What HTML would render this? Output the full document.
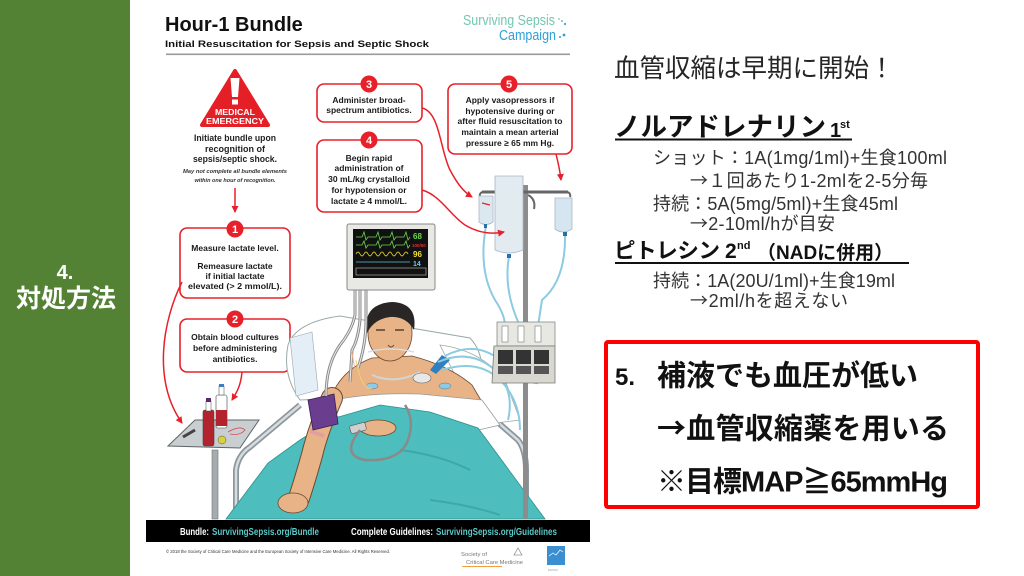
<!DOCTYPE html>
<html><head><meta charset="utf-8">
<style>
html,body{margin:0;padding:0;background:#fff;}
body{width:1024px;height:576px;overflow:hidden;position:relative;}
svg{position:absolute;left:0;top:0;}
</style></head>
<body>
<svg width="1024" height="576" viewBox="0 0 1024 576" style="font-family:'Liberation Sans','Noto Sans CJK JP',sans-serif">
<defs>
<marker id="ah" markerWidth="8" markerHeight="8" refX="6" refY="4" orient="auto" markerUnits="userSpaceOnUse">
<path d="M0,0.5 L7,4 L0,7.5 Z" fill="#e8202a"/>
</marker>
</defs>
<rect x="0" y="0" width="1024" height="576" fill="#fff"/>
<!-- green sidebar -->
<rect x="0" y="0" width="130" height="576" fill="#548235"/>
<text x="65" y="279" text-anchor="middle" font-size="20" font-weight="bold" fill="#fff">4.</text>
<text x="66" y="307" text-anchor="middle" font-size="25" font-weight="bold" fill="#fff" font-family="'Liberation Sans','Noto Sans CJK JP',sans-serif">対処方法</text>

<!-- ===== POSTER ===== -->
<text x="165" y="31" font-size="20" font-weight="bold" fill="#111">Hour-1 Bundle</text>
<text x="165" y="47" font-size="9.4" font-weight="bold" fill="#111" textLength="264" lengthAdjust="spacingAndGlyphs">Initial Resuscitation for Sepsis and Septic Shock</text>
<rect x="166" y="53.5" width="404" height="1.6" fill="#9a9a9a"/>
<text x="463" y="25" font-size="15" fill="#74c7b0" textLength="92" lengthAdjust="spacingAndGlyphs">Surviving Sepsis</text>
<circle cx="559" cy="19" r="0.9" fill="#74c7b0"/><circle cx="562" cy="21" r="0.9" fill="#3aa0d8"/><circle cx="565" cy="24" r="1.1" fill="#3aa0d8"/>
<text x="499" y="40" font-size="15" fill="#2f9fd8" textLength="57" lengthAdjust="spacingAndGlyphs">Campaign</text>
<circle cx="560" cy="37" r="1" fill="#2f9fd8"/><circle cx="564" cy="35" r="1.4" fill="#2f9fd8"/>

<!-- medical emergency -->
<path d="M235,71 L268,125 L202,125 Z" fill="#e41f26" stroke="#e41f26" stroke-width="4" stroke-linejoin="round"/>
<path d="M230.5,78 L239.5,78 L238,97 L232,97 Z" fill="#fff"/>
<rect x="232" y="99.5" width="6" height="5" fill="#fff"/>
<text x="235" y="115" text-anchor="middle" font-size="8" font-weight="bold" fill="#fff" textLength="40" lengthAdjust="spacingAndGlyphs">MEDICAL</text>
<text x="235" y="124" text-anchor="middle" font-size="8" font-weight="bold" fill="#fff" textLength="58" lengthAdjust="spacingAndGlyphs">EMERGENCY</text>
<g font-size="9" font-weight="bold" fill="#222" text-anchor="middle">
<text x="235" y="141" textLength="82" lengthAdjust="spacingAndGlyphs">Initiate bundle upon</text>
<text x="235" y="152">recognition of</text>
<text x="235" y="162" textLength="84" lengthAdjust="spacingAndGlyphs">sepsis/septic shock.</text>
</g>
<g font-size="5.5" font-weight="bold" font-style="italic" fill="#333" text-anchor="middle">
<text x="235" y="173" textLength="104" lengthAdjust="spacingAndGlyphs">May not complete all bundle elements</text>
<text x="235" y="182" textLength="81" lengthAdjust="spacingAndGlyphs">within one hour of recognition.</text>
</g>
<line x1="235" y1="188" x2="235" y2="212" stroke="#e8202a" stroke-width="1.5" marker-end="url(#ah)"/>

<!-- boxes -->
<g fill="#fff" stroke="#e8202a" stroke-width="1.6">
<rect x="180" y="228" width="110" height="70" rx="7"/>
<rect x="180" y="319" width="110" height="53" rx="7"/>
<rect x="317" y="84" width="105" height="38" rx="7"/>
<rect x="317" y="140" width="105" height="72" rx="7"/>
<rect x="448" y="84" width="124" height="70" rx="7"/>
</g>
<g fill="#e8202a">
<circle cx="235" cy="229" r="8.5"/><circle cx="235" cy="319" r="8.5"/>
<circle cx="369" cy="84" r="8.5"/><circle cx="369" cy="140" r="8.5"/><circle cx="509" cy="84" r="8.5"/>
</g>
<g font-size="11" font-weight="bold" fill="#fff" text-anchor="middle">
<text x="235" y="233">1</text><text x="235" y="323">2</text>
<text x="369" y="88">3</text><text x="369" y="144">4</text><text x="509" y="88">5</text>
</g>
<g font-size="8.5" font-weight="bold" fill="#1a1a1a" text-anchor="middle">
<text x="235" y="251">Measure lactate level.</text>
<text x="235" y="269">Remeasure lactate</text>
<text x="235" y="279">if initial lactate</text>
<text x="235" y="289" textLength="94" lengthAdjust="spacingAndGlyphs">elevated (&gt; 2 mmol/L).</text>
<text x="235" y="340">Obtain blood cultures</text>
<text x="235" y="351">before administering</text>
<text x="235" y="362">antibiotics.</text>
<text x="369" y="103">Administer broad-</text>
<text x="369" y="113">spectrum antibiotics.</text>
<text x="369" y="161">Begin rapid</text>
<text x="369" y="171">administration of</text>
<text x="369" y="182">30 mL/kg crystalloid</text>
<text x="369" y="193">for hypotension or</text>
<text x="369" y="204">lactate ≥ 4 mmol/L.</text>
<text x="510" y="103">Apply vasopressors if</text>
<text x="510" y="114">hypotensive during or</text>
<text x="510" y="124" textLength="105" lengthAdjust="spacingAndGlyphs">after fluid resuscitation to</text>
<text x="510" y="135">maintain a mean arterial</text>
<text x="510" y="146">pressure ≥ 65 mm Hg.</text>
</g>

<!-- scene: tray table -->
<rect x="212" y="450" width="6" height="69" fill="#a4acb0" stroke="#6f7579" stroke-width="0.6"/>
<path d="M168,446 L195,420 L259,420 L240,448 Z" fill="#c9ced1" stroke="#5f6468" stroke-width="1"/>
<rect x="203" y="410" width="11" height="36" rx="2" fill="#b3232d" stroke="#444" stroke-width="0.6"/>
<rect x="206" y="401" width="5" height="10" fill="#fff" stroke="#444" stroke-width="0.5"/>
<rect x="206" y="398" width="5" height="4" fill="#5a2a70"/>
<rect x="216" y="395" width="11" height="33" rx="2" fill="#fff" stroke="#444" stroke-width="0.6"/>
<rect x="216" y="410" width="11" height="16" fill="#b3232d"/>
<rect x="219" y="386" width="5" height="9" fill="#fff" stroke="#444" stroke-width="0.5"/>
<rect x="219" y="384" width="5" height="3" fill="#3a7fc0"/>
<circle cx="222" cy="440" r="4" fill="#d9d23a" stroke="#555" stroke-width="0.5"/>
<path d="M183,437 L195,430" stroke="#444" stroke-width="3"/>
<path d="M228,432 Q240,425 245,430 Q240,436 230,434" stroke="#d05060" stroke-width="0.8" fill="none"/>

<!-- bed rails -->
<path d="M236,519 L236,470 Q238,455 250,447 L300,405" stroke="#8c969c" stroke-width="6" fill="none"/>
<path d="M236,519 L236,470 Q238,455 250,447 L300,405" stroke="#d6dde0" stroke-width="2.5" fill="none"/>
<path d="M478,405 L518,440 Q526,450 526,470 L526,519" stroke="#8c969c" stroke-width="6" fill="none"/>
<path d="M478,405 L518,440 Q526,450 526,470 L526,519" stroke="#d6dde0" stroke-width="2.5" fill="none"/>

<!-- pillow -->
<path d="M288,345 Q296,322 340,316 L470,338 Q490,360 475,392 L300,400 Q282,375 288,345 Z" fill="#fff" stroke="#9aa" stroke-width="1"/>
<path d="M290,338 L312,332 L318,390 L296,396 Z" fill="#e3eef6" stroke="#9aa" stroke-width="0.6"/>
<path d="M440,345 Q480,350 505,380 L520,420 L480,425 Z" fill="#fff" stroke="#9aa" stroke-width="0.8"/>

<!-- chest / neck -->
<path d="M330,400 Q340,370 372,358 L412,356 Q450,366 472,385 L482,402 Z" fill="#e8b386" stroke="#6b4a30" stroke-width="0.8"/>
<!-- head -->
<ellipse cx="390" cy="333" rx="22" ry="28" fill="#e8b386" stroke="#6b4a30" stroke-width="0.8"/>
<path d="M367,333 Q362,304 392,302 Q418,303 414,330 Q406,316 390,317 Q374,319 367,333 Z" fill="#2a2626"/>
<path d="M376,330 L385,330 M395,330 L404,330" stroke="#3a2a20" stroke-width="1.2"/>
<path d="M388,345 Q391,349 394,345" stroke="#6b4a30" stroke-width="1" fill="none"/>
<path d="M368,352 Q390,346 414,352" stroke="#d8dde0" stroke-width="1.5" fill="none"/>
<path d="M372,375 Q395,385 420,372" stroke="#cfd6da" stroke-width="2" fill="none"/>
<!-- electrodes -->
<ellipse cx="372" cy="386" rx="6" ry="3" fill="#8ccbe6" stroke="#557" stroke-width="0.4"/>
<ellipse cx="422" cy="378" rx="9" ry="5" fill="#e8e8e8" stroke="#666" stroke-width="0.6"/>
<ellipse cx="445" cy="386" rx="6" ry="3" fill="#8ccbe6" stroke="#557" stroke-width="0.4"/>
<path d="M430,370 L442,355 L450,360 L436,374 Z" fill="#2f80c0"/>

<!-- white sheet -->
<path d="M318,404 Q360,392 420,394 L482,400 L500,425 L470,432 Q420,408 340,418 Z" fill="#fff" stroke="#999" stroke-width="0.8"/>

<!-- teal blanket -->
<path d="M226,519 L268,463 L300,440 L335,418 L380,405 L430,412 L478,428 L545,519 Z" fill="#4dbdbd" stroke="#2f8f8f" stroke-width="0.8"/>
<path d="M400,450 Q440,455 470,470 M430,500 Q470,505 500,515" stroke="#3ea8a8" stroke-width="2" fill="none"/>

<!-- arm -->
<path d="M332,398 Q318,430 312,455 Q305,480 299,498" stroke="#6b4a30" stroke-width="22" stroke-linecap="round" fill="none"/>
<path d="M332,398 Q318,430 312,455 Q305,480 299,498" stroke="#e8b386" stroke-width="20" stroke-linecap="round" fill="none"/>
<ellipse cx="293" cy="503" rx="15" ry="10" fill="#e8b386" stroke="#6b4a30" stroke-width="0.8"/>
<path d="M310,431 L324,436" stroke="#e0a0a0" stroke-width="4"/>
<path d="M308,400 L334,394 L338,424 L313,430 Z" fill="#6a3d8f" stroke="#3a2050" stroke-width="0.8"/>
<!-- right hand + pulse ox -->
<ellipse cx="378" cy="428" rx="18" ry="8" fill="#e8b386" stroke="#6b4a30" stroke-width="0.8"/>
<rect x="350" y="424" width="16" height="8" rx="2" fill="#d0d0d0" stroke="#555" stroke-width="0.6" transform="rotate(-15 358 428)"/>

<!-- monitor cables -->
<g fill="none">
<path d="M355,290 L355,315 Q352,330 340,345 Q326,365 326,396" stroke="#8a8a8a" stroke-width="3"/>
<path d="M360,290 L360,320 Q358,340 352,350 L350,382" stroke="#8a8a8a" stroke-width="3"/>
<path d="M366,290 L366,320 Q366,345 358,368" stroke="#8a8a8a" stroke-width="3"/>
<path d="M355,290 L355,315 Q352,330 340,345 Q326,365 326,396" stroke="#eee" stroke-width="1"/>
<path d="M360,290 L360,320 Q358,340 352,350 L350,382" stroke="#eee" stroke-width="1"/>
<path d="M366,290 L366,320 Q366,345 358,368" stroke="#eee" stroke-width="1"/>
<path d="M360,430 Q340,455 365,460 Q400,462 408,440 Q415,420 405,405" stroke="#8a8a8a" stroke-width="2.5"/>
<path d="M352,352 Q355,380 368,386" stroke="#f0b090" stroke-width="1"/>
<path d="M356,360 Q362,392 372,388" stroke="#f0d070" stroke-width="1"/>
</g>
<!-- light blue tubes -->
<g fill="none" stroke="#8ccbe0" stroke-width="2">
<path d="M486,226 Q478,270 495,300 Q505,315 505,326"/>
<path d="M509,256 Q503,290 520,326"/>
<path d="M565,234 Q566,280 542,300 L538,326"/>
<path d="M438,362 Q470,348 495,370 Q515,390 508,420"/>
<path d="M442,370 Q480,358 502,382 Q520,402 520,430"/>
<path d="M445,356 Q475,340 500,360 Q530,385 538,383"/>
</g>

<!-- IV pole -->
<rect x="523" y="185" width="5" height="334" fill="#8c8c8c"/>
<path d="M482,192 L568,192" stroke="#666" stroke-width="3"/>
<path d="M482,192 q-3,2 -2,5 M568,192 q3,2 2,5 M528,195 q8,4 6,14" stroke="#666" stroke-width="2" fill="none"/>
<path d="M495,176 L523,176 L523,250 Q509,256 495,250 Z" fill="#e2ebf0" stroke="#a8b8c4" stroke-width="0.8"/>
<path d="M479,196 L493,196 L493,222 Q486,227 479,222 Z" fill="#dbe8f0" stroke="#a8b8c4" stroke-width="0.8"/>
<path d="M482,203 L490,205" stroke="#e8202a" stroke-width="1.2"/>
<path d="M555,198 L572,198 L572,229 Q563,235 555,229 Z" fill="#d5e6f0" stroke="#a8b8c4" stroke-width="0.8"/>
<rect x="484" y="224" width="3" height="4" fill="#2a6fa8"/>
<rect x="507" y="254" width="4" height="4" fill="#2a6fa8"/>
<rect x="563" y="232" width="4" height="4" fill="#2a6fa8"/>
<!-- pump -->
<rect x="497" y="322" width="58" height="24" fill="#e8e8e2" stroke="#888" stroke-width="0.8"/>
<rect x="502" y="326" width="6" height="16" fill="#fff" stroke="#777" stroke-width="0.6"/>
<rect x="518" y="326" width="6" height="16" fill="#fff" stroke="#777" stroke-width="0.6"/>
<rect x="535" y="326" width="6" height="16" fill="#fff" stroke="#777" stroke-width="0.6"/>
<path d="M494,346 L555,346 L555,383 L492,383 Z" fill="#d8d8d0" stroke="#777" stroke-width="0.8"/>
<rect x="498" y="350" width="15" height="14" fill="#333"/>
<rect x="516" y="350" width="15" height="14" fill="#333"/>
<rect x="534" y="350" width="15" height="14" fill="#333"/>
<rect x="498" y="366" width="15" height="8" fill="#555"/>
<rect x="516" y="366" width="15" height="8" fill="#555"/>
<rect x="534" y="366" width="15" height="8" fill="#555"/>

<!-- monitor -->
<rect x="347" y="224" width="88" height="66" rx="2" fill="#e8e8e4" stroke="#888" stroke-width="1"/>
<rect x="353" y="229" width="75" height="49" fill="#111"/>
<g fill="none" stroke-width="0.8">
<path d="M356,237 L362,237 L364,232 L366,240 L368,237 L376,237 L378,232 L380,240 L382,237 L390,237 L392,232 L394,240 L396,237 L404,237 L406,232 L408,240 L410,237" stroke="#6cd850"/>
<path d="M356,245 L362,245 L364,241 L366,248 L368,245 L376,245 L378,241 L380,248 L382,245 L390,245 L392,241 L394,248 L396,245 L404,245 L406,241 L408,248 L410,245" stroke="#6cd850"/>
<path d="M356,254 q2,-4 4,0 t4,0 t4,0 t4,0 t4,0 t4,0 t4,0 t4,0 t4,0 t4,0 t4,0 t4,0 t4,0" stroke="#e8d830"/>
<path d="M356,262 L410,262" stroke="#60c0e0"/>
<rect x="356" y="268" width="70" height="7" stroke="#999"/>
</g>
<text x="413" y="239" font-size="8" font-weight="bold" fill="#6cd850">68</text>
<text x="412" y="247" font-size="4.5" font-weight="bold" fill="#e03030">100/50</text>
<text x="413" y="257" font-size="8" font-weight="bold" fill="#f0e030">96</text>
<text x="413" y="266" font-size="7" font-weight="bold" fill="#60d0f0">14</text>

<!-- connectors -->
<g fill="none" stroke="#e8202a" stroke-width="1.5">
<path d="M422,108 C440,112 440,150 450,170 C458,185 464,192 472,197" marker-end="url(#ah)"/>
<path d="M422,190 C440,195 450,215 465,225 C480,234 494,234 504,232" marker-end="url(#ah)"/>
<path d="M556,154 C558,162 560,170 561,180" marker-end="url(#ah)"/>
<path d="M182,282 C163,320 152,380 182,423" marker-end="url(#ah)"/>
<path d="M242,372 C241,385 237,392 232,400" marker-end="url(#ah)"/>
</g>

<!-- footer -->
<rect x="146" y="520" width="444" height="22" fill="#000"/>
<g font-size="10" font-weight="bold">
<text x="180" y="535" fill="#fff" textLength="29" lengthAdjust="spacingAndGlyphs">Bundle:</text>
<text x="212" y="535" fill="#5cc8c8" textLength="107" lengthAdjust="spacingAndGlyphs">SurvivingSepsis.org/Bundle</text>
<text x="351" y="535" fill="#fff" textLength="82" lengthAdjust="spacingAndGlyphs">Complete Guidelines:</text>
<text x="436" y="535" fill="#5cc8c8" textLength="121" lengthAdjust="spacingAndGlyphs">SurvivingSepsis.org/Guidelines</text>
</g>
<text x="166" y="553" font-size="4.5" fill="#333" textLength="224" lengthAdjust="spacingAndGlyphs">© 2018 the Society of Critical Care Medicine and the European Society of Intensive Care Medicine. All Rights Reserved.</text>
<text x="461" y="556" font-size="5" fill="#777" textLength="26" lengthAdjust="spacingAndGlyphs">Society of</text>
<text x="466" y="564" font-size="5.5" fill="#777" textLength="57" lengthAdjust="spacingAndGlyphs">Critical Care Medicine</text>
<rect x="462" y="566" width="40" height="1" fill="#f0a040"/>
<path d="M514,555 L518,548 L522,555 Z" fill="none" stroke="#999" stroke-width="0.8"/>
<rect x="547" y="546" width="18" height="19" fill="#3b8fd0"/>
<path d="M549,556 L553,553 L556,555 L560,550 L563,552" stroke="#fff" stroke-width="0.7" fill="none"/>
<text x="548" y="571" font-size="3" fill="#999">ESICM</text>

<!-- ===== RIGHT SIDE JAPANESE ===== -->
<text x="614" y="77" font-size="25.5" fill="#262626">血管収縮は早期に開始！</text>

<text x="614" y="136" font-size="26.5" font-weight="bold" fill="#111">ノルアドレナリン</text>
<text x="830" y="137" font-size="20" font-weight="bold" fill="#111">1</text>
<text x="840" y="128" font-size="11" font-weight="bold" fill="#111">st</text>
<rect x="615" y="138.5" width="237" height="2" fill="#111"/>

<g font-size="18" fill="#333">
<text x="653" y="164" textLength="294" lengthAdjust="spacing">ショット：1A(1mg/1ml)+生食100ml</text>
<text x="690" y="187" textLength="238" lengthAdjust="spacing"><tspan font-family="'Noto Sans CJK JP',sans-serif">→</tspan>１回あたり1-2mlを2-5分毎</text>
<text x="653" y="210" textLength="245" lengthAdjust="spacing">持続：5A(5mg/5ml)+生食45ml</text>
<text x="690" y="230" textLength="145" lengthAdjust="spacing"><tspan font-family="'Noto Sans CJK JP',sans-serif">→</tspan>2-10ml/hが目安</text>
<text x="653" y="287" textLength="242" lengthAdjust="spacing">持続：1A(20U/1ml)+生食19ml</text>
<text x="690" y="307" textLength="158" lengthAdjust="spacing"><tspan font-family="'Noto Sans CJK JP',sans-serif">→</tspan>2ml/hを超えない</text>
</g>

<text x="614" y="258" font-size="21.5" font-weight="bold" fill="#111" textLength="106" lengthAdjust="spacing">ピトレシン</text>
<text x="725" y="258" font-size="21" font-weight="bold" fill="#111">2</text>
<text x="737" y="249" font-size="11" font-weight="bold" fill="#111">nd</text>
<text x="757" y="259" font-size="19" font-weight="bold" fill="#111">（NADに併用）</text>
<rect x="615" y="262" width="294" height="2" fill="#111"/>

<rect x="606" y="342" width="372" height="165" rx="2" fill="none" stroke="#ff0000" stroke-width="4"/>
<text x="615" y="385" font-size="24" font-weight="bold" fill="#111">5.</text>
<text x="657" y="385.5" font-size="29" font-weight="bold" fill="#111">補液でも血圧が低い</text>
<text x="657" y="438.5" font-size="29" font-weight="bold" fill="#111" textLength="292" lengthAdjust="spacing"><tspan font-family="'Noto Sans CJK JP',sans-serif">→</tspan>血管収縮薬を用いる</text>
<text x="657" y="491.5" font-size="29" font-weight="bold" fill="#111" textLength="291" lengthAdjust="spacing">※目標MAP≧65mmHg</text>
</svg>
</body></html>
